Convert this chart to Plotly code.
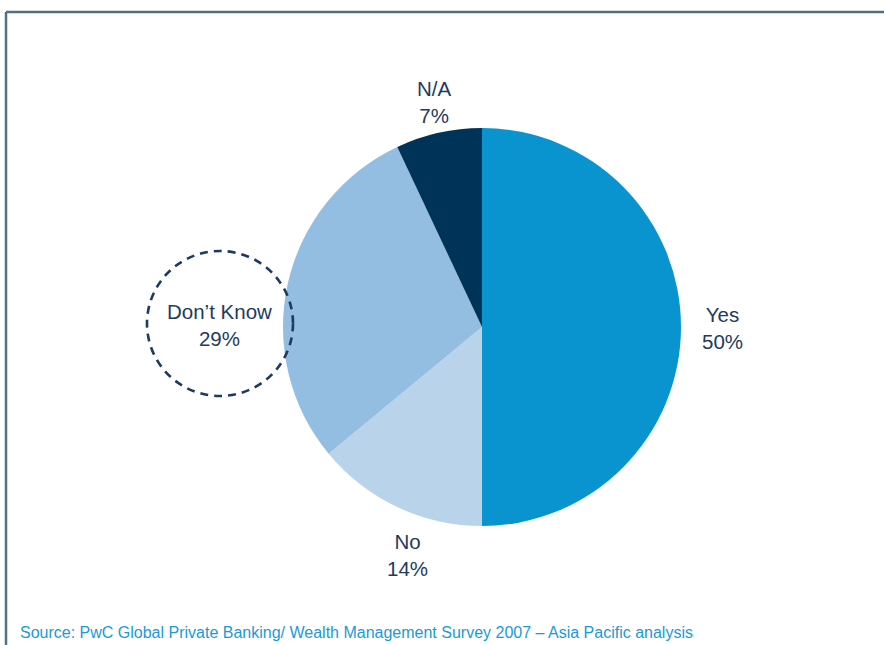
import plotly.graph_objects as go

# Survey response shares
categories = ["Yes", "No", "Don't Know", "N/A"]
shares = [50, 14, 29, 7]
slice_colors = ["#0994d0", "#b9d3eb", "#94bde2", "#003358"]

W, H = 884, 645
navy = "#1d3b5e"

fig = go.Figure(
    go.Pie(
        labels=categories,
        values=shares,
        sort=False,
        direction="clockwise",
        rotation=0,
        marker=dict(colors=slice_colors, line=dict(width=0)),
        textinfo="none",
        hoverinfo="label+percent",
        showlegend=False,
        domain=dict(x=[(482 - 199) / W, (482 + 199) / W],
                    y=[1 - 526 / H, 1 - 128 / H]),
    )
)

# Slice labels placed around the pie (centre of each two-line label)
label_pos = {
    "Yes": (722, 328),
    "No": (407, 555),
    "Don't Know": (219, 325),
    "N/A": (434, 102),
}
annotations = []
for cat, val in zip(categories, shares):
    x, y = label_pos[cat]
    annotations.append(dict(
        x=x / W, y=1 - y / H, xref="paper", yref="paper",
        xanchor="center", yanchor="middle",
        text=f"{cat.replace(chr(39), '’')}<br>{val}%",
        showarrow=False, align="center",
        font=dict(family="Liberation Sans, Arial, sans-serif", size=20.5, color=navy),
    ))

annotations.append(dict(
    x=18 / W, y=1 - 632 / H, xref="paper", yref="paper",
    xanchor="left", yanchor="middle",
    text="Source: PwC Global Private Banking/ Wealth Management Survey 2007 – Asia Pacific analysis",
    showarrow=False,
    font=dict(family="Liberation Sans, Arial, sans-serif", size=16, color="#1a9ad6"),
))

shapes = [
    # frame lines
    dict(type="line", xref="paper", yref="paper",
         x0=6 / W, x1=1, y0=1 - 12 / H, y1=1 - 12 / H,
         line=dict(color="#4f7189", width=2.5)),
    dict(type="line", xref="paper", yref="paper",
         x0=6 / W, x1=6 / W, y0=1 - 12 / H, y1=0,
         line=dict(color="#4f7189", width=2.5)),
    # dashed highlight ring around "Don't Know"
    dict(type="circle", xref="paper", yref="paper",
         x0=147 / W, x1=293 / W, y0=1 - 396 / H, y1=1 - 251 / H,
         line=dict(color=navy, width=2.6, dash="8px,6px")),
]

fig.update_layout(
    width=W, height=H,
    margin=dict(l=0, r=0, t=0, b=0),
    paper_bgcolor="white", plot_bgcolor="white",
    annotations=annotations,
    shapes=shapes,
)

fig.write_html("out.html")
